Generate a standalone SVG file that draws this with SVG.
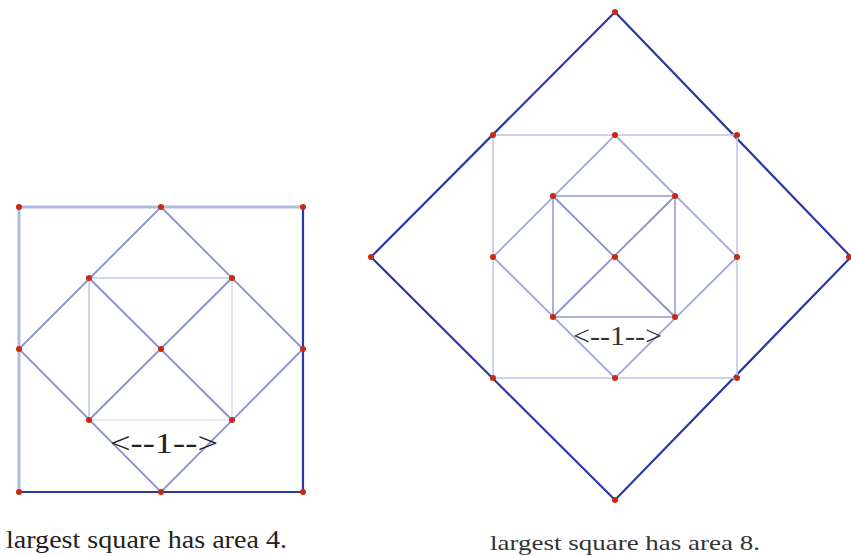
<svg xmlns="http://www.w3.org/2000/svg" width="851" height="556" viewBox="0 0 851 556">
<style>
.dk{stroke:#2b36a8;stroke-width:2.2;fill:none}
.lt3{stroke:#b4b9e2;stroke-width:3;fill:none}
.md{stroke:#8a90d2;stroke-width:1.8;fill:none}
.lt{stroke:#c3c7ea;stroke-width:1.6;fill:none}
.vl{stroke:#dcdff3;stroke-width:1.6;fill:none}
.pt{fill:#c82a10}
.lab{font-family:"Liberation Serif","DejaVu Serif","Times New Roman",serif;fill:#222}
</style>
<rect width="851" height="556" fill="#fff"/>
<g id="connectors">
<line class="lt3" x1="19" y1="207" x2="303" y2="207"/>
<line class="lt3" x1="19" y1="207" x2="19" y2="492"/>
<line class="dk" x1="303" y1="207" x2="303" y2="492"/>
<line class="dk" x1="19" y1="492" x2="303" y2="492"/>
<polygon class="md" points="161,207 303,349 161,492 19,349"/>
<line class="lt" x1="89" y1="278" x2="232" y2="278"/>
<line class="lt" x1="89" y1="278" x2="89" y2="420"/>
<line class="vl" x1="232" y1="278" x2="232" y2="420"/>
<line class="vl" x1="89" y1="420" x2="232" y2="420"/>
<line class="md" x1="89" y1="278" x2="232" y2="420"/>
<line class="md" x1="232" y1="278" x2="89" y2="420"/>
<polygon class="dk" points="615,12 851,257 615,500 371,257"/>
<rect class="lt" x="493" y="135" width="244" height="243"/>
<polygon class="md" points="615,135 737,257 615,378 493,257" style="stroke:#a3a8dc"/>
<rect class="md" x="553" y="196" width="122" height="121" style="stroke:#a3a8dc"/>
<line class="md" x1="553" y1="196" x2="675" y2="317"/>
<line class="md" x1="675" y1="196" x2="553" y2="317"/>
</g>
<g id="left-points">
<circle class="pt" cx="19" cy="207" r="3"/><circle class="pt" cx="161" cy="207" r="3"/><circle class="pt" cx="303" cy="207" r="3"/>
<circle class="pt" cx="89" cy="278" r="3"/><circle class="pt" cx="232" cy="278" r="3"/>
<circle class="pt" cx="19" cy="349" r="3"/><circle class="pt" cx="161" cy="349" r="3"/><circle class="pt" cx="303" cy="349" r="3"/>
<circle class="pt" cx="89" cy="420" r="3"/><circle class="pt" cx="232" cy="420" r="3"/>
<circle class="pt" cx="19" cy="492" r="3"/><circle class="pt" cx="161" cy="492" r="3"/><circle class="pt" cx="303" cy="492" r="3"/>
</g>
<g id="right-points">
<circle class="pt" cx="615" cy="12" r="3"/><circle class="pt" cx="371" cy="257" r="3"/><circle class="pt" cx="849" cy="257" r="3"/><circle class="pt" cx="615" cy="500" r="3"/>
<circle class="pt" cx="493" cy="135" r="3"/><circle class="pt" cx="615" cy="135" r="3"/><circle class="pt" cx="737" cy="135" r="3"/>
<circle class="pt" cx="553" cy="196" r="3"/><circle class="pt" cx="675" cy="196" r="3"/>
<circle class="pt" cx="493" cy="257" r="3"/><circle class="pt" cx="615" cy="257" r="3"/><circle class="pt" cx="737" cy="257" r="3"/>
<circle class="pt" cx="553" cy="317" r="3"/><circle class="pt" cx="675" cy="317" r="3"/>
<circle class="pt" cx="493" cy="378" r="3"/><circle class="pt" cx="615" cy="378" r="3"/><circle class="pt" cx="737" cy="378" r="3"/>
</g>
<g id="labels">
<text class="lab" x="110" y="453" font-size="30" textLength="108" lengthAdjust="spacingAndGlyphs">&lt;--1--&gt;</text>
<text class="lab" x="573" y="345" font-size="28" textLength="89" lengthAdjust="spacingAndGlyphs" style="fill:#333">&lt;--1--&gt;</text>
<text class="lab" x="6" y="548" font-size="26" textLength="281" lengthAdjust="spacingAndGlyphs">largest square has area 4.</text>
<text class="lab" x="490" y="550" font-size="22" textLength="270" lengthAdjust="spacingAndGlyphs" style="fill:#333">largest square has area 8.</text>
</g>
</svg>
